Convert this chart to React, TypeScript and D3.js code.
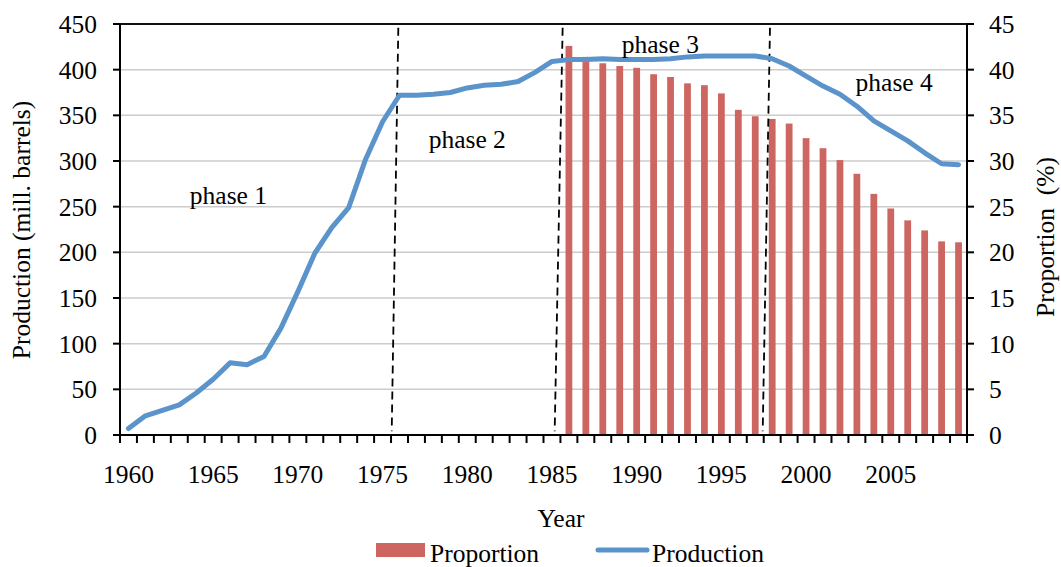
import React, { useEffect, useRef } from 'react';
import * as d3 from 'd3';

const years = [
  1960, 1961, 1962, 1963, 1964, 1965, 1966, 1967, 1968, 1969,
  1970, 1971, 1972, 1973, 1974, 1975, 1976, 1977, 1978, 1979,
  1980, 1981, 1982, 1983, 1984, 1985, 1986, 1987, 1988, 1989,
  1990, 1991, 1992, 1993, 1994, 1995, 1996, 1997, 1998, 1999,
  2000, 2001, 2002, 2003, 2004, 2005, 2006, 2007, 2008, 2009,
];

// mill. barrels
const production = [
  7, 21, 27, 33, 46, 61, 79, 77, 86, 117,
  157, 199, 227, 249, 302, 343, 372, 372, 373, 375,
  380, 383, 384, 387, 397, 409, 411, 411, 412, 411,
  411, 411, 412, 414, 415, 415, 415, 415, 412, 404,
  393, 382, 373, 360, 344, 333, 322, 309, 297, 296,
];

const proportionYears = [
  1986, 1987, 1988, 1989, 1990, 1991, 1992, 1993, 1994, 1995, 1996, 1997,
  1998, 1999, 2000, 2001, 2002, 2003, 2004, 2005, 2006, 2007, 2008, 2009,
];

// %
const proportion = [
  42.6, 41.4, 40.7, 40.4, 40.2, 39.5, 39.2, 38.5, 38.3, 37.4, 35.6, 34.9,
  34.6, 34.1, 32.5, 31.4, 30.1, 28.6, 26.4, 24.8, 23.5, 22.4, 21.2, 21.1,
];

const leftTicks = [0, 50, 100, 150, 200, 250, 300, 350, 400, 450];
const rightTicks = [0, 5, 10, 15, 20, 25, 30, 35, 40, 45];
const yearLabels = [1960, 1965, 1970, 1975, 1980, 1985, 1990, 1995, 2000, 2005];

// phase boundaries, as year position at top and at bottom (hand drawn, slightly slanted)
const boundaryTop = [1976.43, 1986.13, 1998.37];
const boundaryBottom = [1976.04, 1985.66, 1997.94];

const phaseNames = ['phase 1', 'phase 2', 'phase 3', 'phase 4'];
const phaseYear = [1966.4, 1980.5, 1991.9, 2005.7];
const phaseValue = [253, 314, 418, 377];

const W = 1061;
const H = 567;
const FONT = '"Liberation Serif", "Times New Roman", serif';
const BLUE = '#5b93cb';
const RED = '#cd6660';

const App: React.FC = () => {
  const svgRef = useRef<SVGSVGElement | null>(null);

  useEffect(() => {
    if (!svgRef.current) return;
    const m = { left: 120, right: 967, top: 24, bottom: 435 };

    const svg = d3.select(svgRef.current);
    svg.selectAll('*').remove();

    const x = d3.scaleBand<number>()
      .domain(years)
      .range([m.left, m.right])
      .padding(0);
    const xPos = d3.scaleLinear()
      .domain([1960, 2010])
      .range([m.left, m.right]);
    const yL = d3.scaleLinear().domain([0, 450]).range([m.bottom, m.top]);
    const yR = d3.scaleLinear().domain([0, 45]).range([m.bottom, m.top]);

    // gridlines
    svg.append('g')
      .selectAll('line')
      .data(leftTicks.filter(d => d > 0 && d < 450))
      .join('line')
      .attr('x1', m.left)
      .attr('x2', m.right)
      .attr('y1', d => yL(d))
      .attr('y2', d => yL(d))
      .attr('stroke', '#cccccc')
      .attr('stroke-width', 1.5);

    // bars
    const barW = x.bandwidth() * 0.4;
    svg.append('g')
      .selectAll('rect')
      .data(proportion)
      .join('rect')
      .attr('x', (d, i) => (x(proportionYears[i]) as number) + x.bandwidth() / 2 - barW / 2)
      .attr('y', d => yR(d))
      .attr('width', barW)
      .attr('height', d => yR(0) - yR(d))
      .attr('fill', RED);

    // top border
    svg.append('line')
      .attr('x1', m.left)
      .attr('x2', m.right)
      .attr('y1', yL(450))
      .attr('y2', yL(450))
      .attr('stroke', '#111')
      .attr('stroke-width', 1.8);

    // phase boundaries
    svg.append('g')
      .selectAll('line')
      .data(boundaryTop)
      .join('line')
      .attr('x1', d => xPos(d))
      .attr('y1', yL(446))
      .attr('x2', (d, i) => xPos(boundaryBottom[i]))
      .attr('y2', yL(4))
      .attr('stroke', '#000')
      .attr('stroke-width', 1.8)
      .attr('stroke-dasharray', '8,5');

    // production line
    const line = d3.line<number>()
      .x((d, i) => (x(years[i]) as number) + x.bandwidth() / 2)
      .y(d => yL(d));
    svg.append('path')
      .datum(production)
      .attr('d', line)
      .attr('fill', 'none')
      .attr('stroke', BLUE)
      .attr('stroke-width', 5)
      .attr('stroke-linejoin', 'round')
      .attr('stroke-linecap', 'round');

    // axes
    const axisG = svg.append('g').attr('stroke', '#000').attr('stroke-width', 2);
    axisG.append('line').attr('x1', m.left).attr('x2', m.left).attr('y1', m.top).attr('y2', m.bottom + 1);
    axisG.append('line').attr('x1', m.right).attr('x2', m.right).attr('y1', m.top).attr('y2', m.bottom + 1);
    axisG.append('line').attr('x1', m.left - 7).attr('x2', m.right + 7).attr('y1', m.bottom).attr('y2', m.bottom);
    axisG.selectAll('.tl')
      .data(leftTicks)
      .join('line')
      .attr('class', 'tl')
      .attr('x1', m.left - 7)
      .attr('x2', m.left)
      .attr('y1', d => yL(d))
      .attr('y2', d => yL(d));
    axisG.selectAll('.tr')
      .data(rightTicks)
      .join('line')
      .attr('class', 'tr')
      .attr('x1', m.right)
      .attr('x2', m.right + 7)
      .attr('y1', d => yR(d))
      .attr('y2', d => yR(d));
    axisG.selectAll('.tx')
      .data([...years, 2010])
      .join('line')
      .attr('class', 'tx')
      .attr('x1', d => xPos(d))
      .attr('x2', d => xPos(d))
      .attr('y1', m.bottom)
      .attr('y2', m.bottom + 8);

    const text = svg.append('g')
      .attr('font-family', FONT)
      .attr('font-size', 25.5)
      .attr('fill', '#000');

    text.selectAll('.ll')
      .data(leftTicks)
      .join('text')
      .attr('class', 'll')
      .attr('x', 97)
      .attr('y', d => yL(d) + 9)
      .attr('text-anchor', 'end')
      .text(d => d);
    text.selectAll('.rl')
      .data(rightTicks)
      .join('text')
      .attr('class', 'rl')
      .attr('x', 989)
      .attr('y', d => yR(d) + 9)
      .text(d => d);
    text.selectAll('.xl')
      .data(yearLabels)
      .join('text')
      .attr('class', 'xl')
      .attr('x', d => (x(d) as number) + x.bandwidth() / 2)
      .attr('y', 483)
      .attr('text-anchor', 'middle')
      .text(d => d);

    text.selectAll('.ph')
      .data(phaseNames)
      .join('text')
      .attr('class', 'ph')
      .attr('x', (d, i) => xPos(phaseYear[i]))
      .attr('y', (d, i) => yL(phaseValue[i]))
      .attr('text-anchor', 'middle')
      .text(d => d);

    text.append('text')
      .attr('x', 561)
      .attr('y', 527)
      .attr('text-anchor', 'middle')
      .text('Year');
    text.append('text')
      .attr('transform', 'translate(30,230) rotate(-90)')
      .attr('text-anchor', 'middle')
      .text('Production (mill. barrels)');
    text.append('text')
      .attr('transform', 'translate(1054,237) rotate(-90)')
      .attr('text-anchor', 'middle')
      .attr('xml:space', 'preserve')
      .style('white-space', 'pre')
      .text('Proportion  (%)');

    // legend
    svg.append('rect')
      .attr('x', 376)
      .attr('y', 543)
      .attr('width', 49)
      .attr('height', 14)
      .attr('fill', RED);
    text.append('text').attr('x', 430).attr('y', 562).text('Proportion');
    svg.append('line')
      .attr('x1', 598)
      .attr('x2', 647)
      .attr('y1', 550)
      .attr('y2', 550)
      .attr('stroke', BLUE)
      .attr('stroke-width', 5)
      .attr('stroke-linecap', 'round');
    text.append('text').attr('x', 652).attr('y', 562).text('Production');
  }, []);

  return (
    <svg
      ref={svgRef}
      width={W}
      height={H}
      style={{ position: 'absolute', left: 0, top: 0, display: 'block', background: '#fff' }}
    />
  );
};

export default App;
